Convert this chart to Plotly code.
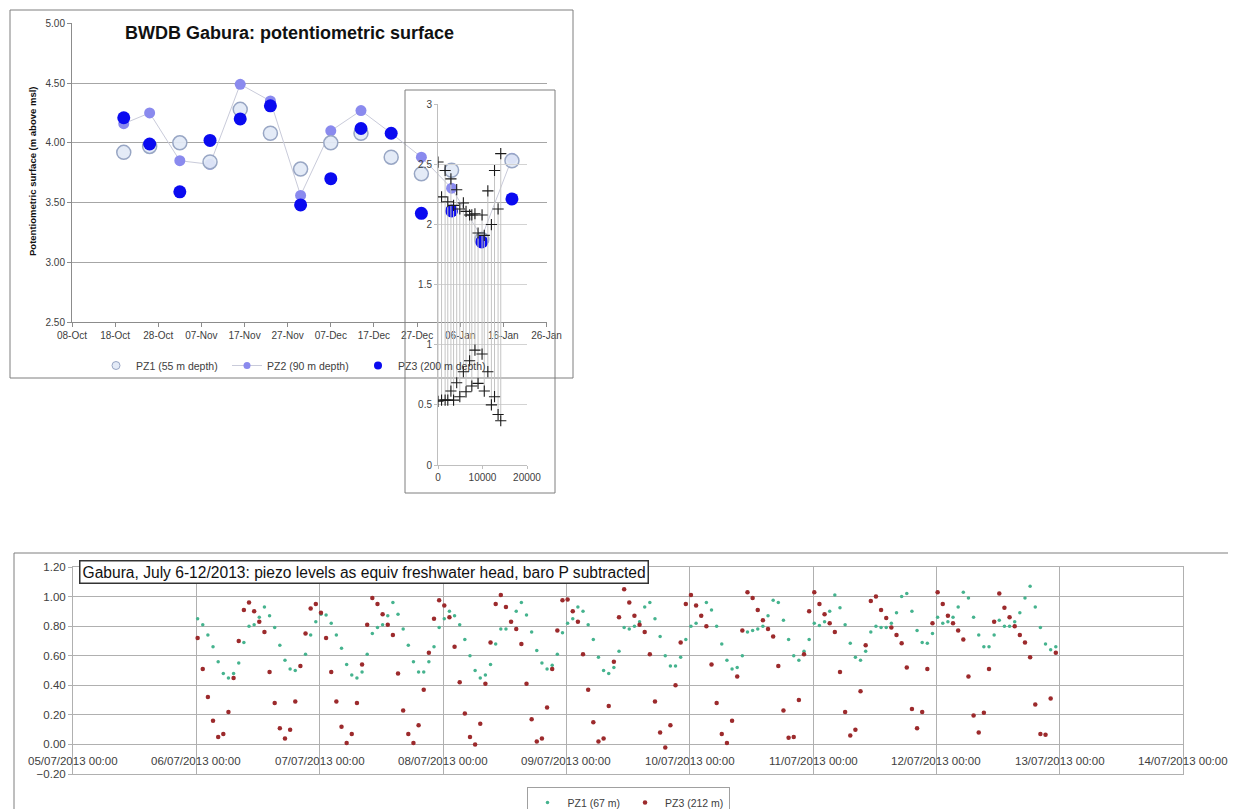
import plotly.graph_objects as go
import pandas as pd

# ---------------- data: top chart ----------------
top_dates = ['2012-10-20', '2012-10-26', '2012-11-02', '2012-11-09', '2012-11-16', '2012-11-23',
             '2012-11-30', '2012-12-07', '2012-12-14', '2012-12-21', '2012-12-28', '2013-01-04',
             '2013-01-11', '2013-01-18']
pz1_55 = [3.92, 3.97, 4.00, 3.84, 4.28, 4.08, 3.78, 4.00, 4.08, 3.88, 3.74, 3.77, 3.19, 3.85]
pz2_90 = [4.16, 4.25, 3.85, 3.82, 4.49, 4.35, 3.56, 4.10, 4.27, 4.08, 3.88, 3.62, 3.21, 3.87]
pz3_200 = [4.21, 3.99, 3.59, 4.02, 4.20, 4.31, 3.48, 3.70, 4.12, 4.08, 3.41, 3.43, 3.17, 3.53]

# ---------------- data: inset chart ----------------
inset_x = [0, 800, 1600, 2200, 2900, 3500, 4200, 4900, 5700, 6300, 7100, 7600, 8300, 9000,
           9900, 10400, 11200, 12000, 12700, 13500, 14100]
inset_upper = [2.52, 2.23, 2.45, 2.19, 2.38, 2.16, 2.29, 2.13, 2.18, 2.11, 2.08, 2.08, 2.09, 1.93,
               2.08, 1.91, 2.28, 2.00, 2.45, 2.13, 2.59]
inset_lower = [0.53, 0.54, 0.54, 0.54, 0.615, 0.54, 0.684, 0.568, 0.776, 0.609, 0.867, 0.657, 0.956,
               0.679, 0.923, 0.615, 0.776, 0.50, 0.568, 0.42, 0.368]

# ---------------- data: bottom chart (hourly readings) ----------------
pz1_67 = [
    0.85, 0.81, 0.74, 0.66, 0.56, 0.48, 0.45, 0.48, 0.55, 0.69, 0.80, 0.81, 0.86, 0.93, 0.87, 0.79, 0.67, 0.57, 0.51, 0.50, 0.53, 0.61, 0.74, 0.83,
    0.88, 0.875, 0.82, 0.74, 0.65, 0.54, 0.47, 0.45, 0.49, 0.61, 0.75, 0.79, 0.81, 0.87, 0.96, 0.88, 0.78, 0.67, 0.56, 0.49, 0.49, 0.56, 0.66, 0.79,
    0.85, 0.90, 0.87, 0.81, 0.71, 0.60, 0.50, 0.45, 0.47, 0.54, 0.68, 0.78, 0.78, 0.83, 0.90, 0.96, 0.875, 0.76, 0.635, 0.55, 0.51, 0.535, 0.61, 0.755,
    0.82, 0.85, 0.93, 0.90, 0.81, 0.71, 0.59, 0.50, 0.48, 0.52, 0.63, 0.79, 0.78, 0.80, 0.83, 0.93, 0.96, 0.85, 0.73, 0.60, 0.53, 0.53, 0.59, 0.71,
    0.80, 0.82, 0.87, 0.96, 0.91, 0.80, 0.68, 0.57, 0.51, 0.52, 0.60, 0.76, 0.77, 0.78, 0.80, 0.87, 0.975, 0.96, 0.84, 0.71, 0.60, 0.57, 0.63, 0.71,
    0.82, 0.805, 0.83, 0.90, 1.01, 0.925, 0.81, 0.685, 0.59, 0.57, 0.63, 0.76, 0.80, 0.79, 0.79, 0.82, 0.89, 1.00, 1.02, 0.90, 0.77, 0.69, 0.685, 0.75,
    0.86, 0.82, 0.83, 0.86, 0.93, 1.03, 0.99, 0.86, 0.74, 0.66, 0.66, 0.74, 0.84, 0.80, 0.80, 0.83, 0.89, 0.99, 1.07, 0.93, 0.79, 0.68, 0.64, 0.66,
]
pz3_212 = [
    0.72, 0.51, 0.32, 0.16, 0.05, 0.07, 0.22, 0.45, 0.70, 0.91, 0.96, 0.90, 0.83, 0.76, 0.49, 0.28, 0.11, 0.04, 0.10, 0.29, 0.53, 0.75, 0.92, 0.95,
    0.89, 0.72, 0.49, 0.29, 0.12, 0.01, 0.07, 0.28, 0.54, 0.81, 0.99, 0.95, 0.88, 0.81, 0.74, 0.48, 0.23, 0.07, 0.01, 0.13, 0.37, 0.62, 0.85, 0.975,
    0.94, 0.86, 0.66, 0.42, 0.21, 0.05, 0.00, 0.14, 0.41, 0.69, 0.95, 1.01, 0.93, 0.83, 0.78, 0.68, 0.41, 0.17, 0.02, 0.04, 0.25, 0.51, 0.77, 0.975,
    0.98, 0.90, 0.83, 0.61, 0.37, 0.15, 0.02, 0.04, 0.26, 0.56, 0.86, 1.05, 0.96, 0.87, 0.81, 0.76, 0.61, 0.29, 0.08, -0.02, 0.13, 0.40, 0.69, 0.95,
    1.01, 0.94, 0.87, 0.80, 0.54, 0.28, 0.07, 0.01, 0.16, 0.46, 0.77, 1.03, 0.99, 0.91, 0.84, 0.78, 0.73, 0.53, 0.23, 0.045, 0.05, 0.30, 0.61, 0.90,
    1.03, 0.95, 0.88, 0.82, 0.76, 0.49, 0.22, 0.06, 0.10, 0.36, 0.67, 0.97, 1.00, 0.91, 0.855, 0.79, 0.74, 0.685, 0.52, 0.24, 0.11, 0.22, 0.51, 0.82,
    1.03, 0.95, 0.87, 0.82, 0.77, 0.71, 0.46, 0.195, 0.08, 0.215, 0.51, 0.83, 1.02, 0.925, 0.86, 0.80, 0.74, 0.69, 0.59, 0.27, 0.07, 0.065, 0.31, 0.62,
]
bottom_start = '2013-07-06 00:15'
bottom_tick_dates = ['2013-07-05', '2013-07-06', '2013-07-07', '2013-07-08', '2013-07-09',
                     '2013-07-10', '2013-07-11', '2013-07-12', '2013-07-13', '2013-07-14']

W, H = 1236, 809
OFF = 8  # the page body margin that offsets the figure inside the window
FONT = 'Liberation Sans'


def px_x(p):
    return (p - OFF) / W


def px_y(p):
    return 1 - (p - OFF) / H


bottom_times = pd.date_range(bottom_start, periods=len(pz3_212), freq='h')

PZ1_FILL, PZ1_EDGE = 'rgba(226,233,246,0.92)', '#98A6C4'
PZ2_COL, PZ2_LINE = '#8A8AEE', '#C9CBDA'
PZ3_COL = '#0A0AF0'

fig = go.Figure()

# ---- top chart traces ----
fig.add_trace(go.Scatter(
    x=top_dates, y=pz2_90, mode='lines+markers', name='PZ2 (90 m depth)',
    line=dict(color=PZ2_LINE, width=1), marker=dict(size=11, color=PZ2_COL),
    xaxis='x', yaxis='y', showlegend=False))
fig.add_trace(go.Scatter(
    x=top_dates, y=pz1_55, mode='markers', name='PZ1 (55 m depth)',
    marker=dict(size=14, color=PZ1_FILL, line=dict(color=PZ1_EDGE, width=1.5)),
    xaxis='x', yaxis='y', showlegend=False))
fig.add_trace(go.Scatter(
    x=top_dates, y=pz3_200, mode='markers', name='PZ3 (200 m depth)',
    marker=dict(size=13, color=PZ3_COL),
    xaxis='x', yaxis='y', showlegend=False))
# legend entries (small symbols as in the original legend)
fig.add_trace(go.Scatter(x=[None], y=[None], mode='markers', name='PZ1 (55 m depth)',
                         marker=dict(size=8, color=PZ1_FILL, line=dict(color=PZ1_EDGE, width=1)),
                         xaxis='x', yaxis='y', legend='legend'))
fig.add_trace(go.Scatter(x=[None], y=[None], mode='lines+markers', name='PZ2 (90 m depth)',
                         line=dict(color=PZ2_LINE, width=1), marker=dict(size=7, color=PZ2_COL),
                         xaxis='x', yaxis='y', legend='legend'))
fig.add_trace(go.Scatter(x=[None], y=[None], mode='markers', name='PZ3 (200 m depth)',
                         marker=dict(size=8, color=PZ3_COL),
                         xaxis='x', yaxis='y', legend='legend'))

# ---- inset traces ----
hx, hy = [], []
for xv, lo, up in zip(inset_x, inset_lower, inset_upper):
    hx += [xv, xv, None]
    hy += [lo, up, None]
fig.add_trace(go.Scatter(x=hx, y=hy, mode='lines', line=dict(color='#C4C4C4', width=1),
                         xaxis='x2', yaxis='y2', showlegend=False, hoverinfo='skip'))
for series in (inset_upper, inset_lower):
    fig.add_trace(go.Scatter(
        x=inset_x, y=series, mode='markers',
        marker=dict(symbol='cross-thin', size=8, line=dict(color='#1A1A1A', width=1.1)),
        xaxis='x2', yaxis='y2', showlegend=False))

# ---- bottom chart traces ----
fig.add_trace(go.Scatter(
    x=bottom_times, y=pz1_67, mode='markers', name='PZ1 (67 m)',
    marker=dict(size=3.5, color='#45B38E'),
    xaxis='x3', yaxis='y3', legend='legend2'))
fig.add_trace(go.Scatter(
    x=bottom_times, y=pz3_212, mode='markers', name='PZ3 (212 m)',
    marker=dict(size=4.5, color='#9C2A2C'),
    xaxis='x3', yaxis='y3', legend='legend2'))

tick_font = dict(family=FONT, size=10, color='#404040')
axis_grey = '#8C8C8C'

annotations = [
    dict(text='<b>BWDB Gabura: potentiometric surface</b>', x=px_x(123), y=px_y(33),
         xref='paper', yref='paper', xanchor='left', yanchor='middle', showarrow=False,
         font=dict(family=FONT, size=18, color='#111111')),
    dict(text='<b>Potentiometric surface (m above msl)</b>', x=px_x(32), y=px_y(172),
         xref='paper', yref='paper', textangle=-90, xanchor='center', yanchor='middle',
         showarrow=False, font=dict(family=FONT, size=9.5, color='#111111')),
    dict(text='Gabura, July 6-12/2013: piezo levels as equiv freshwater head, baro P subtracted',
         x=px_x(79), y=px_y(572), xref='paper', yref='paper', xanchor='left', yanchor='middle',
         showarrow=False, bordercolor='#333333', borderwidth=1.5, borderpad=2, bgcolor='white',
         font=dict(family=FONT, size=15.6, color='#111111')),
]
for d in bottom_tick_dates:
    annotations.append(dict(
        text=pd.Timestamp(d).strftime('%d/%m/%Y %H:%M'), x=d, y=-0.115, xref='x3', yref='y3',
        showarrow=False, xanchor='center', yanchor='middle',
        font=dict(family=FONT, size=11.5, color='#404040')))

shapes = [
    dict(type='rect', xref='paper', yref='paper', x0=px_x(10), x1=px_x(573), y0=px_y(378), y1=px_y(10),
         line=dict(color='#7F7F7F', width=1), fillcolor='rgba(0,0,0,0)', layer='below'),
    dict(type='rect', xref='paper', yref='paper', x0=px_x(405), x1=px_x(555), y0=px_y(493), y1=px_y(90),
         line=dict(color='#7F7F7F', width=1), fillcolor='rgba(0,0,0,0)'),
    dict(type='rect', xref='paper', yref='paper', x0=px_x(14), x1=px_x(1250), y0=px_y(830), y1=px_y(553),
         line=dict(color='#7F7F7F', width=1), fillcolor='rgba(0,0,0,0)', layer='below'),
]

fig.update_layout(
    width=W, height=H, margin=dict(l=0, r=0, t=0, b=0, pad=0, autoexpand=False),
    paper_bgcolor='white', plot_bgcolor='rgba(0,0,0,0)',
    font=dict(family=FONT, color='#404040'),
    xaxis=dict(domain=[px_x(72), px_x(547)], range=['2012-10-08', '2013-01-26 03:00'], type='date',
               tick0='2012-10-08', dtick=864000000, tickformat='%d-%b', showgrid=False,
               showline=True, linecolor=axis_grey, ticks='outside', ticklen=4, tickcolor=axis_grey,
               tickfont=tick_font, anchor='y', zeroline=False, automargin=False),
    yaxis=dict(domain=[px_y(322), px_y(23)], range=[2.5, 5.003], dtick=0.5, tick0=2.5, tickformat='.2f',
               showgrid=True, gridcolor='#A6A6A6', showline=True, linecolor=axis_grey,
               ticks='outside', ticklen=4, tickcolor=axis_grey, tickfont=tick_font,
               anchor='x', zeroline=False, automargin=False),
    xaxis2=dict(domain=[px_x(438), px_x(527)], range=[0, 20000], tickvals=[0, 10000, 20000],
                tickformat='d', showgrid=False, showline=True, linecolor='#BFBFBF', ticks='outside',
                ticklen=3, tickcolor='#BFBFBF', tickfont=dict(family=FONT, size=10, color='#404040'),
                anchor='y2', zeroline=False, automargin=False),
    yaxis2=dict(domain=[px_y(465), px_y(104)], range=[0, 3.003], dtick=0.5, tick0=0,
                showgrid=True, gridcolor='#D3D3D3', showline=True, linecolor='#BFBFBF',
                ticks='outside', ticklen=3, tickcolor='#BFBFBF',
                tickfont=dict(family=FONT, size=10, color='#404040'), anchor='x2', zeroline=False,
                automargin=False),
    xaxis3=dict(domain=[px_x(73), px_x(1183)], range=['2013-07-05', '2013-07-14'], type='date',
                dtick=86400000, tick0='2013-07-05', showgrid=True, gridcolor='#B0B0B0',
                showticklabels=False, showline=True, mirror=True, linecolor='#B0B0B0',
                anchor='y3', zeroline=False, automargin=False),
    yaxis3=dict(domain=[px_y(774), px_y(567)], range=[-0.2, 1.2], dtick=0.2, tick0=-0.2,
                tickformat='.2f', showgrid=True, gridcolor='#B0B0B0', showline=True, mirror=True,
                linecolor='#B0B0B0', ticks='outside', ticklen=4, tickcolor='#B0B0B0',
                tickfont=dict(family=FONT, size=11.5, color='#404040'), anchor='x3', zeroline=False,
                automargin=False),
    legend=dict(orientation='h', x=px_x(96), y=px_y(351), xanchor='left', yanchor='top',
                font=dict(family=FONT, size=10.5, color='#404040'), bgcolor='rgba(0,0,0,0)',
                itemwidth=30, entrywidth=86, traceorder='normal'),
    legend2=dict(orientation='h', x=px_x(628), y=px_y(787), xanchor='center', yanchor='top',
                 font=dict(family=FONT, size=10.5, color='#404040'), bgcolor='white',
                 bordercolor='#A0A0A0', borderwidth=1, itemwidth=30, tracegroupgap=0),
    annotations=annotations, shapes=shapes, showlegend=True,
)

fig.write_html('out.html')
